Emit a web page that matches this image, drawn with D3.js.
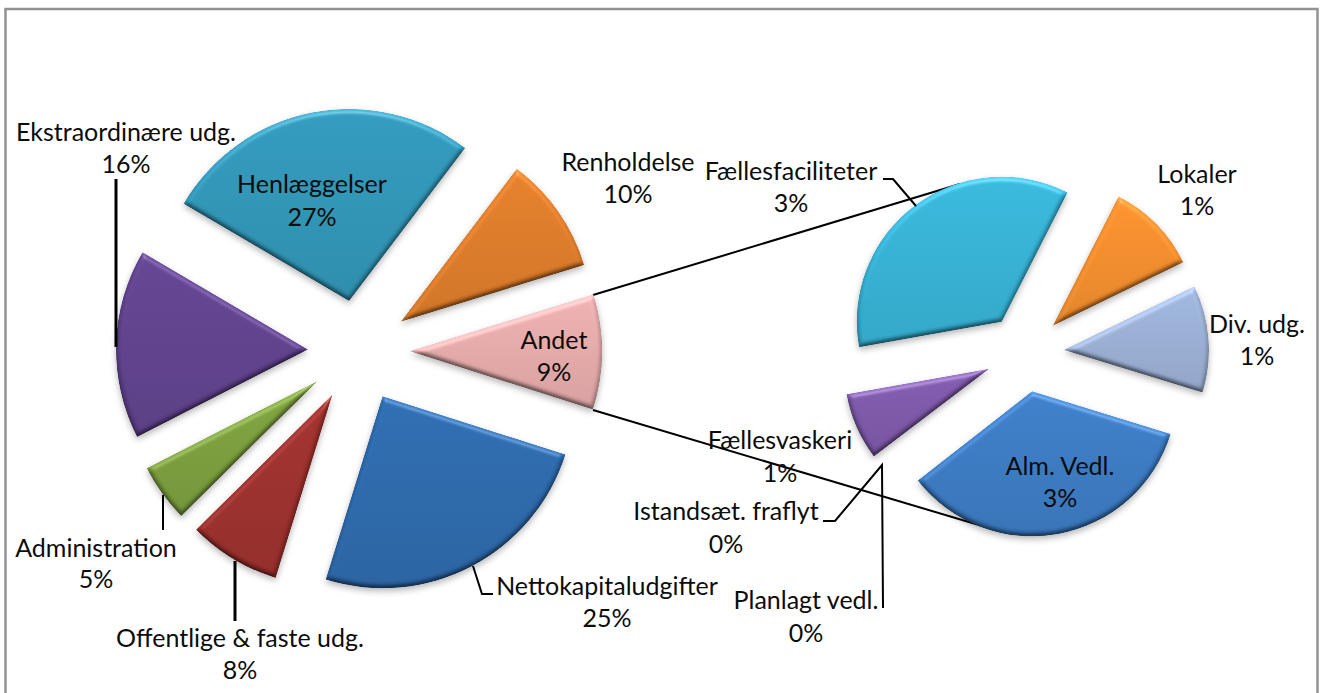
<!DOCTYPE html>
<html>
<head>
<meta charset="utf-8">
<script src="https://cdn.jsdelivr.net/npm/d3@7"></script>
<style>
  html, body { margin: 0; padding: 0; background: #fff; overflow: hidden; }
  text { font-family: Lato, "Noto Sans", sans-serif; font-size: 25px; fill: #0c0c0c; }
</style>
</head>
<body>
<div id="chart"></div>
<script>
// Main pie, clockwise from Renholdelse
const mainNames = ["Renholdelse", "Andet", "Nettokapitaludgifter", "Offentlige & faste udg.", "Administration", "Ekstraordinære udg.", "Henlæggelser"];
const mainValues = [9.9, 9.7, 24.9, 7.8, 4.9, 16.0, 26.9];
const mainLabels = ["10%", "9%", "25%", "8%", "5%", "16%", "27%"];
const mainColors = ["#dc7a28", "#e5aaaa", "#2c68ab", "#9c2f2c", "#7a9e3c", "#5f418c", "#2f95b6"];

// Second pie, breakdown of "Andet"
const subNames = ["Lokaler", "Div. udg.", "Alm. Vedl.", "Planlagt vedl.", "Istandsæt. fraflyt", "Fællesvaskeri", "Fællesfaciliteter"];
const subValues = [1.0, 1.16, 3.37, 0.01, 0.01, 0.73, 3.43];
const subLabels = ["1%", "1%", "3%", "0%", "0%", "1%", "3%"];
const subColors = ["#f28c2c", "#9aafd4", "#3a79c2", "#3a79c2", "#3a79c2", "#7d58a9", "#35b1d4"];

const width = 1322;
const height = 693;
const deg = Math.PI / 180;

// Where each pie sits
const mainPie = {cx: 359, cy: 351, r: 192, explode: 51, start: 37.2};
const subPie = {cx: 1025, cy: 353, r: 145, explode: 39, start: 27};

// Label anchors: centre x, baseline of the first line, baseline of the second
const mainLabelPos = [[628, 171, 203], [554, 349, 381], [607, 595, 627], [240, 647, 679], [96, 557, 588], [126, 141, 173], [312, 193, 226]];
const subLabelPos = [[1197, 183, 215], [1257, 333, 365], [1060, 475, 507], [806, 609, 642], [726, 520, 553], [780, 449, 482], [791, 180, 212]];

// Leader lines
const leaders = [
    {w: 3, pts: [[116, 347], [116, 179]]},
    {w: 2, pts: [[163, 495], [163, 530]]},
    {w: 3, pts: [[235, 561], [235, 621]]},
    {w: 2, pts: [[473, 566], [482, 594], [493, 594]]},
    {w: 2, pts: [[883, 179], [893, 179], [916, 206]]},
    {w: 2, pts: [[823, 521], [835, 521], [882, 465], [883, 608]]}
];
const connectors = [
    {w: 2, pts: [[593, 295], [960, 184]]},
    {w: 2, pts: [[593, 410], [989, 528]]}
];

const svg = d3.select("#chart")
    .append("svg")
    .attr("width", width)
    .attr("height", height);

svg.append("rect").attr("width", width).attr("height", height).attr("fill", "#fff");

// Frame, runs off the bottom of the picture
svg.append("rect")
    .attr("x", 5.5)
    .attr("y", 9)
    .attr("width", 1312)
    .attr("height", 720)
    .attr("fill", "none")
    .attr("stroke", "#929292")
    .attr("stroke-width", 2.5);

const defs = svg.append("defs");

// Bevel and soft shadow for the slices
const filter = defs.append("filter")
    .attr("id", "bevel")
    .attr("x", "-15%").attr("y", "-15%")
    .attr("width", "130%").attr("height", "130%")
    .attr("color-interpolation-filters", "sRGB");

filter.append("feGaussianBlur").attr("in", "SourceAlpha").attr("stdDeviation", 2.6).attr("result", "bump");
const diffuse = filter.append("feDiffuseLighting")
    .attr("in", "bump")
    .attr("surfaceScale", 3)
    .attr("diffuseConstant", 1)
    .attr("lighting-color", "#fff")
    .attr("result", "light");
diffuse.append("feDistantLight").attr("azimuth", 270).attr("elevation", 55);
filter.append("feComposite")
    .attr("in", "SourceGraphic").attr("in2", "light")
    .attr("operator", "arithmetic")
    .attr("k1", 0.85).attr("k2", 0.3).attr("k3", 0).attr("k4", 0)
    .attr("result", "shaded");
const specular = filter.append("feSpecularLighting")
    .attr("in", "bump")
    .attr("surfaceScale", 3)
    .attr("specularConstant", 0.3)
    .attr("specularExponent", 30)
    .attr("lighting-color", "#fff")
    .attr("result", "shine");
specular.append("feDistantLight").attr("azimuth", 270).attr("elevation", 40);
filter.append("feComposite").attr("in", "shine").attr("in2", "SourceAlpha").attr("operator", "in").attr("result", "shineIn");
filter.append("feComposite").attr("in", "shaded").attr("in2", "SourceAlpha").attr("operator", "in").attr("result", "body");
filter.append("feGaussianBlur").attr("in", "SourceAlpha").attr("stdDeviation", 3).attr("result", "soft");
filter.append("feOffset").attr("in", "soft").attr("dy", 3).attr("result", "softOff");
filter.append("feFlood").attr("flood-color", "#000").attr("flood-opacity", 0.28).attr("result", "shadeColor");
filter.append("feComposite").attr("in", "shadeColor").attr("in2", "softOff").attr("operator", "in").attr("result", "shadow");
const merge = filter.append("feMerge");
merge.append("feMergeNode").attr("in", "shadow");
merge.append("feMergeNode").attr("in", "body");
merge.append("feMergeNode").attr("in", "shineIn");

// Vertical gradient per colour, a bit lighter at the top
function gradientFor(color) {
    const id = "grad" + color.slice(1);
    if (defs.select("#" + id).empty()) {
        const grad = defs.append("linearGradient")
            .attr("id", id)
            .attr("x1", 0).attr("y1", 0)
            .attr("x2", 0).attr("y2", 1);
        grad.append("stop").attr("offset", "0%").attr("stop-color", d3.color(color).brighter(0.15));
        grad.append("stop").attr("offset", "100%").attr("stop-color", d3.color(color).darker(0.15));
    }
    return "url(#" + id + ")";
}

const line = d3.line();

function drawLines(list) {
    svg.append("g").selectAll("path")
        .data(list)
        .join("path")
        .attr("d", d => line(d.pts))
        .attr("fill", "none")
        .attr("stroke", "#000")
        .attr("stroke-width", d => d.w);
}

function drawPie(conf, values, colors) {
    const pie = d3.pie()
        .sort(null)
        .startAngle(conf.start * deg)
        .endAngle((conf.start + 360) * deg);
    const arc = d3.arc().innerRadius(0).outerRadius(conf.r);

    svg.append("g")
        .attr("transform", "translate(" + conf.cx + "," + conf.cy + ")")
        .selectAll("path")
        .data(pie(values).filter(d => d.value > 0.05))
        .join("path")
        .attr("d", arc)
        .attr("fill", d => gradientFor(colors[d.index]))
        .attr("filter", "url(#bevel)")
        .attr("transform", d => {
            // Pull each slice out along its middle angle
            const mid = (d.startAngle + d.endAngle) / 2;
            return "translate(" + conf.explode * Math.sin(mid) + "," + (-conf.explode * Math.cos(mid)) + ")";
        });
}

function drawLabels(names, labels, pos) {
    const g = svg.append("g").attr("text-anchor", "middle");
    names.forEach((name, i) => {
        g.append("text").attr("x", pos[i][0]).attr("y", pos[i][1]).text(name);
        g.append("text").attr("x", pos[i][0]).attr("y", pos[i][2]).text(labels[i]);
    });
}

drawLines(connectors);
drawPie(mainPie, mainValues, mainColors);
drawPie(subPie, subValues, subColors);
drawLines(leaders);
drawLabels(mainNames, mainLabels, mainLabelPos);
drawLabels(subNames, subLabels, subLabelPos);
</script>
</body>
</html>
